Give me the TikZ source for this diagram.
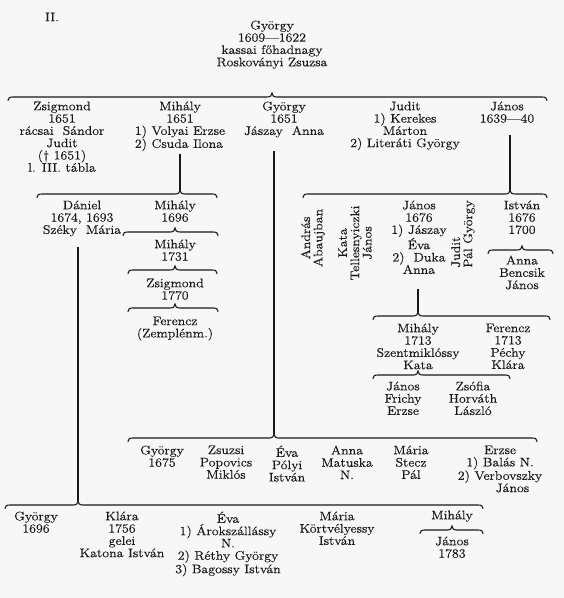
\documentclass[tikz,border=0pt]{standalone}
\usepackage{fontspec}
\setmainfont{lmroman12-regular.otf}[FakeStretch=1.12,FakeBold=0.35]
\definecolor{bgc}{RGB}{247,247,247}
\definecolor{ink}{RGB}{25,25,25}
\newcommand\myfs{\fontsize{12.4}{12.3}\selectfont}
\newcommand\famBrace[5]{%
  \coordinate (#1) at (#4,#5-4);
  \draw[br] (#2,#5+3.5) .. controls (#2,#5+1) and (#2+1.5,#5) .. (#2+5,#5)
    -- (#4-5,#5) .. controls (#4-1.5,#5) and (#4,#5-1.5) .. (#1)
    .. controls (#4,#5-1.5) and (#4+1.5,#5) .. (#4+5,#5)
    -- (#3-5,#5) .. controls (#3-1.5,#5) and (#3,#5+1) .. (#3,#5+3.5);}
\begin{document}
\begin{tikzpicture}[x=1pt,y=-1pt,
  t/.style={align=center,inner sep=0pt,anchor=north,yshift=4.6pt,font=\myfs,text=ink,execute at begin node=\strut},
  rt/.style={align=center,inner sep=0pt,font=\myfs,text=ink,rotate=90},
  vl/.style={line width=1.6pt,draw=ink},
  br/.style={line width=1.1pt,line cap=round,draw=ink}]
\useasboundingbox[fill=bgc] (0,0) rectangle (564,598);

\node[t] (ii) at (52,17) {II.};
\node[t] (top) at (272,25) {György\\1609\textemdash 1622\\kassai főhadnagy\\Roskoványi Zsuzsa};

% row 1
\node[t] (zsig) at (62,106) {Zsigmond\\1651\\rácsai~ Sándor\\Judit\\(\textdagger\ 1651)\\l. III. tábla};
\node[t] (mih) at (180,106) {Mihály\\1651\\\begin{tabular}[t]{@{}l@{}}1) Volyai Erzse\\2) Csuda Ilona\end{tabular}};
\node[t] (gyo) at (284,106) {György\\1651\\Jászay~ Anna};
\node[t] (jud) at (405,106) {Judit\\1) Kerekes\\Márton\\2) Literáti György};
\node[t] (jan) at (507,106) {János\\1639\textemdash 40};

% row 2 left
\node[t] (dan) at (82,205) {Dániel\\1674, 1693\\Széky~ Mária};
\node[t] (mih2) at (175,205) {Mihály\\1696};
\node[t] (mih3) at (175,244) {Mihály\\1731};
\node[t] (zsig2) at (175,283) {Zsigmond\\1770};
\node[t] (fer) at (175,321) {Ferencz\\(Zemplénm.)};

% row 2 right
\node[rt] (andr) at (313,238) {András\\Abaujban};
\node[rt] (kata) at (355,243) {Kata\\Tellesnyiczki\\János};
\node[t] (jan2) at (419,205) {János\\1676\\1) Jászay\\Éva\\2)~ Duka\\Anna};
\node[rt,align=left] (judit2) at (463,234) {Judit\\Pál György};
\node[t] (ist) at (522,205) {István\\1676\\1700};
\node[t] (anna) at (522,260) {Anna\\Bencsik\\János};

% row 3
\node[t] (mih4) at (418,328) {Mihály\\1713\\Szentmiklóssy\\Kata};
\node[t] (fer2) at (508,328) {Ferencz\\1713\\Péchy\\Klára};
\node[t] (jan3) at (403,386) {János\\Frichy\\Erzse};
\node[t] (zso) at (473,386) {Zsófia\\Horváth\\László};

% row 4
\node[t] (gy5) at (162,450) {György\\1675};
\node[t] (zsu) at (226,450) {Zsuzsi\\Popovics\\Miklós};
\node[t] (eva) at (287,450) {Éva\\Pólyi\\István};
\node[t] (anna2) at (347,450) {Anna\\Matuska\\N.};
\node[t] (mar) at (411,450) {Mária\\Stecz\\Pál};
\node[t] (erz) at (500,450) {Erzse\\1) Balás N.\\2) Verbovszky\\\hspace*{2em}János};

% row 5
\node[t] (gy6) at (36,516) {György\\1696};
\node[t] (kla) at (122,516) {Klára\\1756\\gelei\\Katona István};
\node[t] (eva2) at (228,516) {Éva\\1) Árokszállássy\\N.\\2) Réthy György\\3) Bagossy István};
\node[t] (mar2) at (337,516) {Mária\\Körtvélyessy\\István};
\node[t] (mih5) at (452,515) {Mihály};
\node[t] (jan5) at (452,541) {János\\1783};

% braces
\famBrace{bTop}{8}{547}{272}{97}
\famBrace{bMih}{37}{217}{180}{194}
\famBrace{bJan}{303}{547}{510}{194}
\famBrace{bM2}{123}{218}{175}{232}
\famBrace{bM3}{128}{217}{175}{270}
\famBrace{bZs}{128}{218}{175}{308}
\famBrace{bIst}{488}{553}{522}{250}
\famBrace{bJ2}{373}{550}{418}{316}
\famBrace{bKata}{373}{510}{418}{375}
\famBrace{bGy}{128}{537}{274}{438}
\famBrace{bDan}{5}{483}{78}{505}
\famBrace{bMih5}{420}{483}{452}{530}

% descent lines
\draw[vl] (mih.south -| bMih) ++(0,2) -- (bMih);
\draw[vl] (gyo.south -| bGy) ++(0,12) -- (bGy);
\draw[vl] (jan.south -| bJan) ++(0,9) -- (bJan);
\draw[vl] (dan.south -| bDan) ++(0,9) -- (bDan);
\draw[vl] (jan2.south -| bJ2) ++(0,11) -- (bJ2);
\end{tikzpicture}
\end{document}
